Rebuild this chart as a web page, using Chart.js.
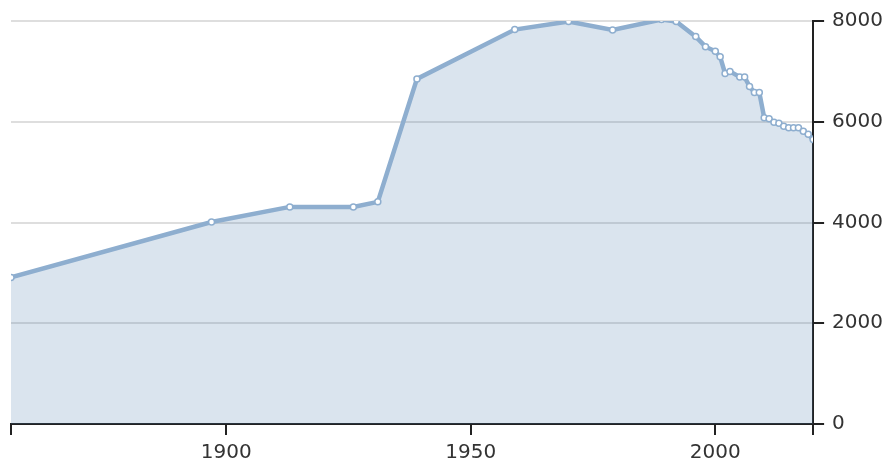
<!DOCTYPE html>
<html>
<head>
<meta charset="utf-8">
<script src="https://cdn.jsdelivr.net/npm/chart.js@4"></script>
<style>
  html, body { margin: 0; padding: 0; background: #fff; }
  #wrap { width: 887px; height: 462px; }
</style>
</head>
<body>
<div id="wrap"><canvas id="grafico"></canvas></div>
<script>
const years = [1856, 1897, 1913, 1926, 1931, 1939, 1959, 1970, 1979, 1989,
  1992, 1996, 1998, 2000, 2001, 2002, 2003, 2005, 2006, 2007, 2008, 2009,
  2010, 2011, 2012, 2013, 2014, 2015, 2016, 2017, 2018, 2019, 2020];
const population = [2910, 4010, 4310, 4310, 4410, 6850, 7830, 7990, 7820, 8030,
  7990, 7690, 7490, 7400, 7290, 6960, 7000, 6890, 6890, 6700, 6580, 6580,
  6080, 6060, 5990, 5970, 5910, 5880, 5880, 5880, 5810, 5750, 5650];
const xTicks = [1900, 1950, 2000];
const yTicks = [0, 2000, 4000, 6000, 8000];

const xMin = years[0];
const xMax = years[years.length - 1];

const puntos = years.map((y, i) => ({ x: y, y: population[i] }));

new Chart(document.getElementById("grafico"), {
  type: "line",
  data: {
    datasets: [{
      data: puntos,
      borderColor: "#8eaecf",
      borderWidth: 4.5,
      backgroundColor: "rgba(70,120,170,0.2)",
      fill: "origin",
      tension: 0,
      pointRadius: 3,
      pointBorderWidth: 1.5,
      pointBackgroundColor: "#ffffff",
      pointBorderColor: "#8eaecf"
    }]
  },
  options: {
    responsive: true,
    maintainAspectRatio: false,
    animation: false,
    layout: { padding: { left: 11, top: 21, right: -4, bottom: -9 } },
    plugins: {
      legend: { display: false },
      tooltip: { enabled: false }
    },
    scales: {
      x: {
        type: "linear",
        min: xMin,
        max: xMax,
        afterBuildTicks: axis => {
          axis.ticks = [xMin, ...xTicks, xMax].map(v => ({ value: v }));
        },
        ticks: {
          autoSkip: false,
          maxRotation: 0,
          padding: 6,
          color: "#333",
          font: { family: "DejaVu Sans", size: 20 },
          callback: v => (xTicks.includes(v) ? String(v) : "")
        },
        grid: {
          drawOnChartArea: false,
          drawTicks: true,
          tickLength: 11,
          tickColor: "#222",
          lineWidth: 2
        },
        border: { color: "#222", width: 2 }
      },
      y: {
        position: "right",
        min: 0,
        max: 8000,
        afterBuildTicks: axis => {
          axis.ticks = yTicks.map(v => ({ value: v }));
        },
        ticks: {
          padding: 8,
          color: "#333",
          font: { family: "DejaVu Sans", size: 20 },
          callback: v => String(v)
        },
        grid: {
          color: "#dedede",
          lineWidth: 2,
          tickLength: 11,
          tickColor: "#222",
          tickWidth: 2
        },
        border: { color: "#222", width: 2 }
      }
    }
  }
});
</script>
</body>
</html>
